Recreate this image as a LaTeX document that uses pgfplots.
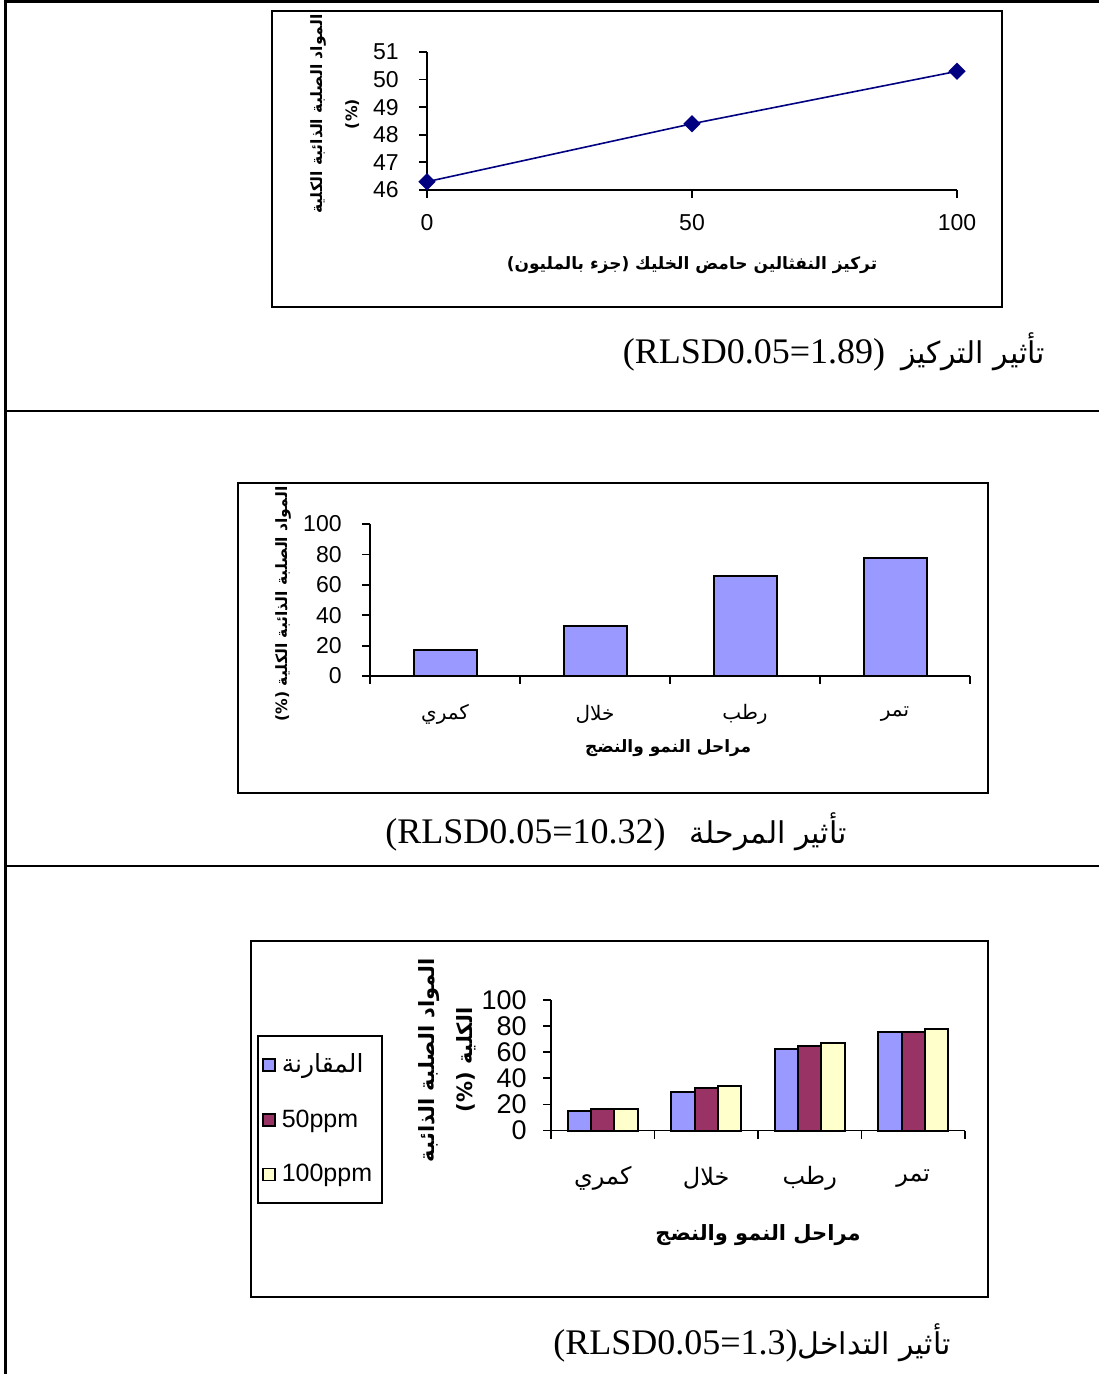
\documentclass[border=0pt]{standalone}
\usepackage{pgfplots}
\pgfplotsset{compat=1.18}
\usepackage{fontspec}
\setmainfont{Liberation Sans}
\newfontfamily\serif{Liberation Serif}
\newfontfamily\arfont[Script=Arabic]{DejaVu Sans}
\newfontfamily\latbf{DejaVu Sans}
\TeXXeTstate=1

\definecolor{barblue}{RGB}{153,153,255}
\definecolor{barplum}{RGB}{153,51,102}
\definecolor{barcream}{RGB}{255,255,204}
\definecolor{linenavy}{RGB}{0,0,128}

\pgfplotsset{
  excelaxis/.style={
    scale only axis, anchor=south west, enlargelimits=false,
    axis x line*=bottom, axis y line*=left,
    tick align=outside, major tick length=4pt, minor tick length=4pt,
    axis line style={line width=0.9pt, black},
    every tick/.style={black, line width=0.9pt},
    /pgf/number format/assume math mode=true,
    ticklabel style={inner sep=0pt},
    clip=false,
  },
}

\begin{document}
\begin{tikzpicture}
\path[use as bounding box] (0,0) rectangle (549.5pt,-687pt);

% table rules
\draw[line width=1.3pt] (2.65pt,-0.8pt) -- (549.5pt,-0.8pt);
\draw[line width=1.3pt] (2.65pt,0pt) -- (2.65pt,-687pt);
\draw[line width=1.2pt] (2.65pt,-205.5pt) -- (549.5pt,-205.5pt);
\draw[line width=1.2pt] (2.65pt,-433pt) -- (549.5pt,-433pt);

% chart frames
\draw[line width=1pt] (136pt,-5.5pt) rectangle (501pt,-153.5pt);
\draw[line width=1pt] (119pt,-241.5pt) rectangle (494pt,-396.5pt);
\draw[line width=1pt] (125.5pt,-470.5pt) rectangle (494pt,-648.5pt);

% ---- concentration effect
\begin{axis}[excelaxis,
  at={(213.5pt,-95pt)}, width=265pt, height=69pt,
  xmin=0, xmax=100, ymin=46, ymax=51,
  xtick={0,50,100}, ytick={46,47,48,49,50,51},
  ticklabel style={font=\fontsize{11.5}{11.5}\selectfont},
  xticklabel style={anchor=center, yshift=-12.5pt},
  yticklabel style={anchor=east, xshift=-10pt},
  xlabel={{\latbf(}\beginR جزء بالمليون\endR{\latbf)} \beginR تركيز النفثالين حامض الخليك\endR},
  xlabel style={at={(axis description cs:0.5,-0.543)}, anchor=center,
    font=\arfont\bfseries\fontsize{8.5}{10}\selectfont},
  ylabel={\beginR المواد الصلبة الذائبة الكلية\endR\\(\%)},
  ylabel style={at={(axis description cs:-0.174,0.55)}, anchor=center, align=center,
    font=\arfont\bfseries\fontsize{7.8}{17.5}\selectfont},
]
\addplot[linenavy, line width=0.8pt, mark=square*, mark size=2.65pt,
  mark options={rotate=45, fill=linenavy, draw=linenavy}]
  coordinates {(0,46.3) (50,48.4) (100,50.3)};
\end{axis}

\node at (417pt,-176pt) {{\serif\fontsize{18}{20}\selectfont (RLSD0.05=1.89)}\hspace{8pt}{\arfont\fontsize{15}{18}\selectfont\beginR تأثير التركيز\endR}};

% ---- stage effect
\begin{axis}[excelaxis,
  at={(185pt,-338pt)}, width=300pt, height=76pt,
  xmin=-0.5, xmax=3.5, ymin=0, ymax=100,
  xtick={0,1,2,3}, major x tick style={draw=none},
  minor xtick={-0.5,0.5,1.5,2.5,3.5},
  xticklabels={{\beginR كمري\endR},{\beginR خلال\endR},{\beginR رطب\endR},{\beginR تمر\endR}},
  ytick={0,20,40,60,80,100},
  yticklabel style={anchor=east, xshift=-10pt, font=\fontsize{11.5}{11.5}\selectfont},
  xticklabel style={anchor=center, yshift=-15pt, font=\arfont\fontsize{10}{10}\selectfont},
  xlabel={\beginR مراحل النمو والنضج\endR},
  xlabel style={at={(axis description cs:0.497,-0.474)}, anchor=center,
    font=\arfont\bfseries\fontsize{8.5}{10}\selectfont},
  ylabel={(\%) \beginR المواد الصلبة الذائبة الكلية\endR},
  ylabel style={at={(axis description cs:-0.145,0.474)}, anchor=center,
    font=\arfont\bfseries\fontsize{7.8}{10}\selectfont},
]
\addplot[ybar, bar width=31.5pt, fill=barblue, draw=black, line width=1pt]
  coordinates {(0,17.1) (1,33.0) (2,65.6) (3,77.5)};
\end{axis}

\node at (308pt,-416pt) {{\serif\fontsize{18}{20}\selectfont (RLSD0.05=10.32)}\hspace{12pt}{\arfont\fontsize{15}{18}\selectfont\beginR تأثير المرحلة\endR}};

% ---- interaction
\begin{axis}[excelaxis,
  at={(275.5pt,-565.25pt)}, width=207pt, height=65.25pt,
  xmin=-0.5, xmax=3.5, ymin=0, ymax=100,
  ybar=0pt, bar width=11.65pt,
  xtick={0,1,2,3}, major x tick style={draw=none},
  minor xtick={-0.5,0.5,1.5,2.5,3.5},
  xticklabels={{\beginR كمري\endR},{\beginR خلال\endR},{\beginR رطب\endR},{\beginR تمر\endR}},
  ytick={0,20,40,60,80,100},
  yticklabel style={anchor=east, xshift=-8pt, font=\fontsize{13.5}{13.5}\selectfont},
  xticklabel style={anchor=center, yshift=-20pt, font=\arfont\fontsize{12}{12}\selectfont},
  xlabel={\beginR مراحل النمو والنضج\endR},
  xlabel style={at={(axis description cs:0.5,-0.80)}, anchor=center,
    font=\arfont\bfseries\fontsize{10.5}{12}\selectfont},
  ylabel={\beginR المواد الصلبة الذائبة\endR\\(\%) \beginR الكلية\endR},
  ylabel style={at={(axis description cs:-0.251,0.54)}, anchor=center, align=center,
    font=\arfont\bfseries\fontsize{10.5}{19}\selectfont},
  legend image code/.code={\draw[#1, draw=black, line width=0.9pt] (1pt,-3pt) rectangle (7pt,3pt);},
  legend style={at={(axis description cs:-0.710,0.732)}, anchor=north west,
    draw=black, line width=0.9pt, font=\fontsize{12.5}{13}\selectfont,
    row sep=13pt, inner xsep=2pt, inner ysep=7pt,
    nodes={inner xsep=3pt}},
  legend cell align=left,
]
\addplot[fill=barblue, draw=black, line width=1pt]
  coordinates {(0,15.0) (1,29.6) (2,62.4) (3,75.6)};
\addplot[fill=barplum, draw=black, line width=1pt]
  coordinates {(0,16.8) (1,32.2) (2,64.9) (3,75.6)};
\addplot[fill=barcream, draw=black, line width=1pt]
  coordinates {(0,16.8) (1,34.2) (2,67.1) (3,77.7)};
\legend{{\arfont\beginR المقارنة\endR},50ppm,100ppm}
\end{axis}

\node at (376pt,-671.5pt) {{\serif\fontsize{18}{20}\selectfont (RLSD0.05=1.3)}{\arfont\fontsize{15}{18}\selectfont\beginR تأثير التداخل\endR}};
\end{tikzpicture}
\end{document}
